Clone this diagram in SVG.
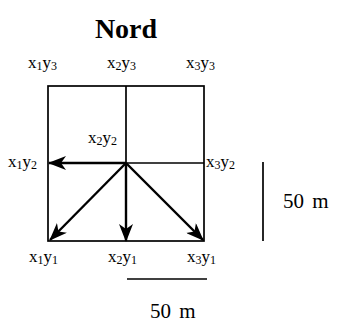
<svg xmlns="http://www.w3.org/2000/svg" width="337" height="329" viewBox="0 0 337 329">
<defs>
<style>
.grid{stroke:#000;stroke-width:1.7;fill:none}
.arr{stroke:#000;stroke-width:2.4;fill:none}
.lbl{font-family:"Liberation Serif","Times New Roman",serif;font-size:17px;fill:#000}
.sub{font-size:12px}
.title{font-family:"Liberation Serif","Times New Roman",serif;font-size:28px;font-weight:bold;fill:#000}
.scale{font-family:"Liberation Serif","Times New Roman",serif;font-size:21px;fill:#000;word-spacing:3px}
</style>
<marker id="ah" viewBox="0 0 18 14" refX="17" refY="7" markerWidth="18" markerHeight="14" markerUnits="userSpaceOnUse" orient="auto">
<path d="M0,0 L18,7 L0,14 L5,7 Z" fill="#000"/>
</marker>
</defs>
<rect width="337" height="329" fill="#fff"/>
<text class="title" x="126" y="38" text-anchor="middle">Nord</text>
<g id="grid">
<rect class="grid" x="48" y="86" width="156" height="155"/>
<line class="grid" x1="126" y1="86" x2="126" y2="163"/>
<line class="grid" x1="126" y1="163" x2="204" y2="163"/>
</g>
<g id="connectors">
<line class="arr" x1="126" y1="163" x2="49" y2="163" marker-end="url(#ah)"/>
<line class="arr" x1="126" y1="163" x2="126" y2="241" marker-end="url(#ah)"/>
<line class="arr" x1="126" y1="163" x2="50" y2="240" marker-end="url(#ah)"/>
<line class="arr" x1="126" y1="163" x2="203" y2="240" marker-end="url(#ah)"/>
</g>
<g id="x1y3"><text class="lbl" x="28" y="68">x<tspan class="sub" dy="2">1</tspan><tspan dy="-2">y</tspan><tspan class="sub" dy="2">3</tspan></text></g>
<g id="x2y3"><text class="lbl" x="107" y="68">x<tspan class="sub" dy="2">2</tspan><tspan dy="-2">y</tspan><tspan class="sub" dy="2">3</tspan></text></g>
<g id="x3y3"><text class="lbl" x="186" y="68">x<tspan class="sub" dy="2">3</tspan><tspan dy="-2">y</tspan><tspan class="sub" dy="2">3</tspan></text></g>
<g id="x2y2"><text class="lbl" x="88" y="143">x<tspan class="sub" dy="2">2</tspan><tspan dy="-2">y</tspan><tspan class="sub" dy="2">2</tspan></text></g>
<g id="x1y2"><text class="lbl" x="8" y="167">x<tspan class="sub" dy="2">1</tspan><tspan dy="-2">y</tspan><tspan class="sub" dy="2">2</tspan></text></g>
<g id="x3y2"><text class="lbl" x="206" y="167">x<tspan class="sub" dy="2">3</tspan><tspan dy="-2">y</tspan><tspan class="sub" dy="2">2</tspan></text></g>
<g id="x1y1"><text class="lbl" x="29" y="262">x<tspan class="sub" dy="2">1</tspan><tspan dy="-2">y</tspan><tspan class="sub" dy="2">1</tspan></text></g>
<g id="x2y1"><text class="lbl" x="108" y="262">x<tspan class="sub" dy="2">2</tspan><tspan dy="-2">y</tspan><tspan class="sub" dy="2">1</tspan></text></g>
<g id="x3y1"><text class="lbl" x="187" y="262">x<tspan class="sub" dy="2">3</tspan><tspan dy="-2">y</tspan><tspan class="sub" dy="2">1</tspan></text></g>
<g id="scale-v">
<line class="grid" x1="263" y1="162" x2="263" y2="241"/>
<text class="scale" x="283" y="208">50 m</text>
</g>
<g id="scale-h">
<line class="grid" x1="127" y1="279" x2="207" y2="279" stroke-width="2.2"/>
<text class="scale" x="150" y="318">50 m</text>
</g>
</svg>
